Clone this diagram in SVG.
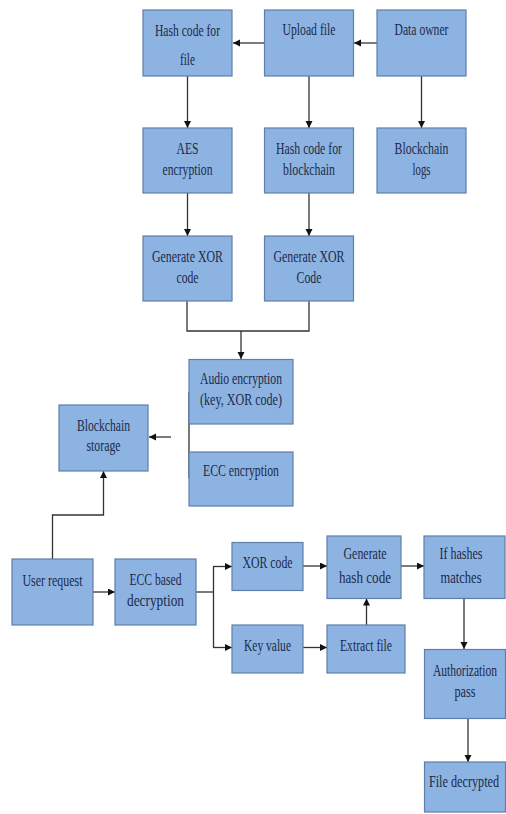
<svg xmlns="http://www.w3.org/2000/svg" width="506" height="814" viewBox="0 0 506 814">
<style>
.box{fill:#8db3e2;stroke:#5f7fa8;stroke-width:1.2}
.t{font-family:"Liberation Serif","Times New Roman",serif;font-size:16.5px;fill:#1c2a48;text-anchor:middle}
.c{fill:none;stroke:#333;stroke-width:1.3}
</style>
<defs>
<marker id="ah" markerUnits="userSpaceOnUse" markerWidth="8" markerHeight="8" refX="7" refY="3.5" orient="auto">
<path d="M0,0 L7,3.5 L0,7 z" fill="#111"/>
</marker>
</defs>
<rect width="506" height="814" fill="#fff"/>
<g id="connectors">
<line class="c" x1="264" y1="43" x2="233" y2="43" marker-end="url(#ah)"/>
<line class="c" x1="377" y1="43" x2="354" y2="43" marker-end="url(#ah)"/>
<line class="c" x1="187.5" y1="76" x2="187.5" y2="128" marker-end="url(#ah)"/>
<line class="c" x1="309" y1="76" x2="309" y2="128" marker-end="url(#ah)"/>
<line class="c" x1="421.5" y1="76" x2="421.5" y2="128" marker-end="url(#ah)"/>
<line class="c" x1="187.5" y1="193" x2="187.5" y2="236" marker-end="url(#ah)"/>
<line class="c" x1="309" y1="193" x2="309" y2="236" marker-end="url(#ah)"/>
<polyline class="c" points="187,301 187,331 309,331 309,301"/>
<line class="c" x1="241" y1="331" x2="241" y2="359" marker-end="url(#ah)"/>
<line class="c" x1="189" y1="392" x2="189" y2="478"/>
<line class="c" x1="171" y1="437" x2="149" y2="437" marker-end="url(#ah)"/>
<polyline class="c" points="52.5,559 52.5,515 103.5,515 103.5,471" marker-end="url(#ah)"/>
<line class="c" x1="93" y1="592" x2="115" y2="592" marker-end="url(#ah)"/>
<line class="c" x1="196" y1="592" x2="213.5" y2="592"/>
<line class="c" x1="213.5" y1="566.5" x2="213.5" y2="647.5"/>
<line class="c" x1="213" y1="566.5" x2="232" y2="566.5" marker-end="url(#ah)"/>
<line class="c" x1="213" y1="647.5" x2="232" y2="647.5" marker-end="url(#ah)"/>
<line class="c" x1="303" y1="566" x2="327" y2="566" marker-end="url(#ah)"/>
<line class="c" x1="303" y1="647.5" x2="327" y2="647.5" marker-end="url(#ah)"/>
<line class="c" x1="366.5" y1="625" x2="366.5" y2="598.5" marker-end="url(#ah)"/>
<line class="c" x1="401" y1="566" x2="424" y2="566" marker-end="url(#ah)"/>
<line class="c" x1="464" y1="598.5" x2="464" y2="649" marker-end="url(#ah)"/>
<line class="c" x1="468" y1="718.5" x2="468" y2="762" marker-end="url(#ah)"/>
</g>
<g id="hash-file"><rect class="box" x="143" y="10" width="89" height="66"/><text class="t" x="187.5" y="36" textLength="65" lengthAdjust="spacingAndGlyphs">Hash code for</text><text class="t" x="187.5" y="65" textLength="15" lengthAdjust="spacingAndGlyphs">file</text></g>
<g id="upload"><rect class="box" x="264.5" y="10" width="89" height="66"/><text class="t" x="309" y="35" textLength="53" lengthAdjust="spacingAndGlyphs">Upload file</text></g>
<g id="owner"><rect class="box" x="377" y="10" width="89" height="66"/><text class="t" x="421.5" y="35" textLength="54" lengthAdjust="spacingAndGlyphs">Data owner</text></g>
<g id="aes"><rect class="box" x="143" y="128" width="89" height="65"/><text class="t" x="187.5" y="154" textLength="22" lengthAdjust="spacingAndGlyphs">AES</text><text class="t" x="187.5" y="175" textLength="50" lengthAdjust="spacingAndGlyphs">encryption</text></g>
<g id="hash-bc"><rect class="box" x="264.5" y="128" width="89" height="65"/><text class="t" x="309" y="154" textLength="66" lengthAdjust="spacingAndGlyphs">Hash code for</text><text class="t" x="309" y="175" textLength="52" lengthAdjust="spacingAndGlyphs">blockchain</text></g>
<g id="bc-logs"><rect class="box" x="377" y="128" width="89" height="65"/><text class="t" x="421.5" y="154" textLength="54" lengthAdjust="spacingAndGlyphs">Blockchain</text><text class="t" x="421.5" y="175" textLength="18" lengthAdjust="spacingAndGlyphs">logs</text></g>
<g id="xor1"><rect class="box" x="143" y="236" width="89" height="65"/><text class="t" x="187.5" y="262" textLength="71" lengthAdjust="spacingAndGlyphs">Generate XOR</text><text class="t" x="187.5" y="283" textLength="22" lengthAdjust="spacingAndGlyphs">code</text></g>
<g id="xor2"><rect class="box" x="264.5" y="236" width="89" height="65"/><text class="t" x="309" y="262" textLength="71" lengthAdjust="spacingAndGlyphs">Generate XOR</text><text class="t" x="309" y="283" textLength="25" lengthAdjust="spacingAndGlyphs">Code</text></g>
<g id="audio"><rect class="box" x="189" y="359.5" width="104" height="64.5"/><text class="t" x="241" y="384" textLength="82" lengthAdjust="spacingAndGlyphs">Audio encryption</text><text class="t" x="241" y="405" textLength="82" lengthAdjust="spacingAndGlyphs">(key, XOR code)</text></g>
<g id="ecc-enc"><rect class="box" x="189" y="452" width="104" height="54"/><text class="t" x="241" y="476" textLength="76" lengthAdjust="spacingAndGlyphs">ECC encryption</text></g>
<g id="bc-storage"><rect class="box" x="59" y="405" width="89" height="66"/><text class="t" x="103.5" y="431" textLength="53" lengthAdjust="spacingAndGlyphs">Blockchain</text><text class="t" x="103.5" y="451" textLength="34" lengthAdjust="spacingAndGlyphs">storage</text></g>
<g id="user"><rect class="box" x="12" y="559" width="81" height="66"/><text class="t" x="52.5" y="586" textLength="60" lengthAdjust="spacingAndGlyphs">User request</text></g>
<g id="ecc-dec"><rect class="box" x="115" y="559" width="81" height="66"/><text class="t" x="155.5" y="585" textLength="52" lengthAdjust="spacingAndGlyphs">ECC based</text><text class="t" x="155.5" y="606" textLength="57" lengthAdjust="spacingAndGlyphs">decryption</text></g>
<g id="xor-code"><rect class="box" x="232" y="542.5" width="71" height="48"/><text class="t" x="267.5" y="567.5" textLength="50" lengthAdjust="spacingAndGlyphs">XOR code</text></g>
<g id="key"><rect class="box" x="232" y="625" width="71" height="48"/><text class="t" x="267.5" y="651" textLength="47" lengthAdjust="spacingAndGlyphs">Key value</text></g>
<g id="gen-hash"><rect class="box" x="327" y="536" width="74" height="62.5"/><text class="t" x="365" y="559" textLength="43" lengthAdjust="spacingAndGlyphs">Generate</text><text class="t" x="365" y="583" textLength="52" lengthAdjust="spacingAndGlyphs">hash code</text></g>
<g id="extract"><rect class="box" x="327" y="625" width="78" height="48"/><text class="t" x="366" y="651" textLength="52" lengthAdjust="spacingAndGlyphs">Extract file</text></g>
<g id="if-hashes"><rect class="box" x="424" y="536" width="81" height="62.5"/><text class="t" x="461" y="559" textLength="43" lengthAdjust="spacingAndGlyphs">If hashes</text><text class="t" x="461" y="583" textLength="41" lengthAdjust="spacingAndGlyphs">matches</text></g>
<g id="auth"><rect class="box" x="424.5" y="649.5" width="81" height="69"/><text class="t" transform="translate(465 676) scale(0.7 1)" x="0" y="0">Authorization</text><text class="t" x="465" y="697" textLength="21" lengthAdjust="spacingAndGlyphs">pass</text></g>
<g id="decrypted"><rect class="box" x="424.5" y="762" width="81" height="50"/><text class="t" transform="translate(464 787) scale(0.74 1)" x="0" y="0">File decrypted</text></g>
</svg>
